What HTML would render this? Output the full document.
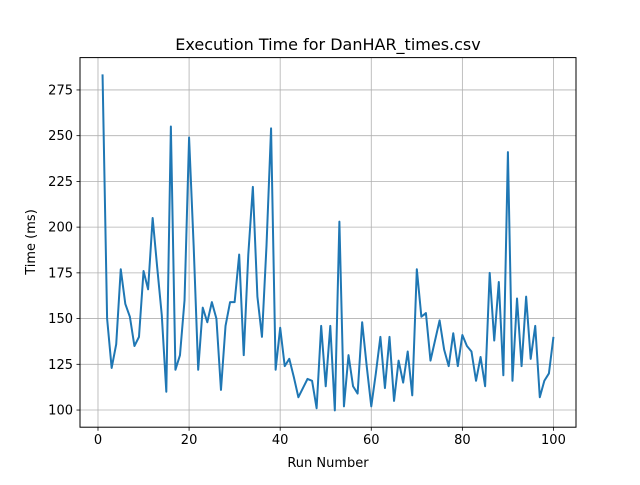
<!DOCTYPE html>
<html><head><meta charset="utf-8"><style>
body{margin:0;background:#fff}
text{font-family:"DejaVu Sans","Liberation Sans",sans-serif;fill:#000}
</style></head><body>
<svg id="chart" width="640" height="480" xmlns="http://www.w3.org/2000/svg">
<rect width="640" height="480" fill="#fff"/>
<text x="328" y="50" font-size="16" text-anchor="middle">Execution Time for DanHAR_times.csv</text>
<g id="grid"></g>
<g id="ticks"></g>
<path id="line" fill="none" stroke="#1f77b4" stroke-width="2" stroke-linejoin="round"/>
<rect x="80" y="57.6" width="496" height="369.6" fill="none" stroke="#000" stroke-width="1"/>
<text x="328" y="467" font-size="13" text-anchor="middle">Run Number</text>
<text transform="translate(35,242) rotate(-90)" font-size="13" text-anchor="middle">Time (ms)</text>
</svg>
<script>
const times = [283.5,150,123,136,177,158,151,135,140,176,166,205,178,152,110,255,122,130,160,249,190,122,156,148,159,150,111,146,159,159,185,130,185,222,162,140,190,254,122,145,124,128,118,107,112,117,116,101,146,113,146,99.8,203,102,130,113,109,148,124,102,120,140,112,140,105,127,115,132,108,177,151,153,127,138,149,133,124,142,124,141,135,132,116,129,113,175,138,170,119,241,116,161,124,162,128,146,107,116,120,140];
const xTicks = [0,20,40,60,80,100];
const yTicks = [100,125,150,175,200,225,250,275];
const L=80,R=576,T=57.6,B=427.2;
const xmin=-3.95,xmax=104.95;
const ymin=Math.min(...times),ymax=Math.max(...times);
const ylo=ymin-(ymax-ymin)*0.05,yhi=ymax+(ymax-ymin)*0.05;
const X=v=>L+(v-xmin)/(xmax-xmin)*(R-L);
const Y=v=>B-(v-ylo)/(yhi-ylo)*(B-T);
const NS="http://www.w3.org/2000/svg";
const grid=document.getElementById('grid'),ticks=document.getElementById('ticks');
function mk(tag,attrs,parent){const e=document.createElementNS(NS,tag);for(const k in attrs)e.setAttribute(k,attrs[k]);parent.appendChild(e);return e;}
xTicks.forEach(t=>{
  const x=X(t);
  const g=mk('line',{x1:x,x2:x,y1:T,y2:B,stroke:'#b0b0b0','stroke-width':0.8},grid);
  
  
  mk('line',{x1:x,x2:x,y1:B,y2:B+3.5,stroke:'#000','stroke-width':0.8},ticks);
  const tx=mk('text',{x:x,y:B+17,'font-size':13,'text-anchor':'middle'},ticks);
  tx.textContent=t;
  
  
});
yTicks.forEach(t=>{
  const y=Y(t);
  const g=mk('line',{x1:L,x2:R,y1:y,y2:y,stroke:'#b0b0b0','stroke-width':0.8},grid);
  
  
  mk('line',{x1:L-3.5,x2:L,y1:y,y2:y,stroke:'#000','stroke-width':0.8},ticks);
  const tx=mk('text',{x:L-7,y:y+4.5,'font-size':13,'text-anchor':'end'},ticks);
  tx.textContent=t;
  
  
});
document.getElementById('line').setAttribute('d',times.map((v,i)=>(i?'L':'M')+X(i+1).toFixed(2)+','+Y(v).toFixed(2)).join(''));
</script>
</body></html>
